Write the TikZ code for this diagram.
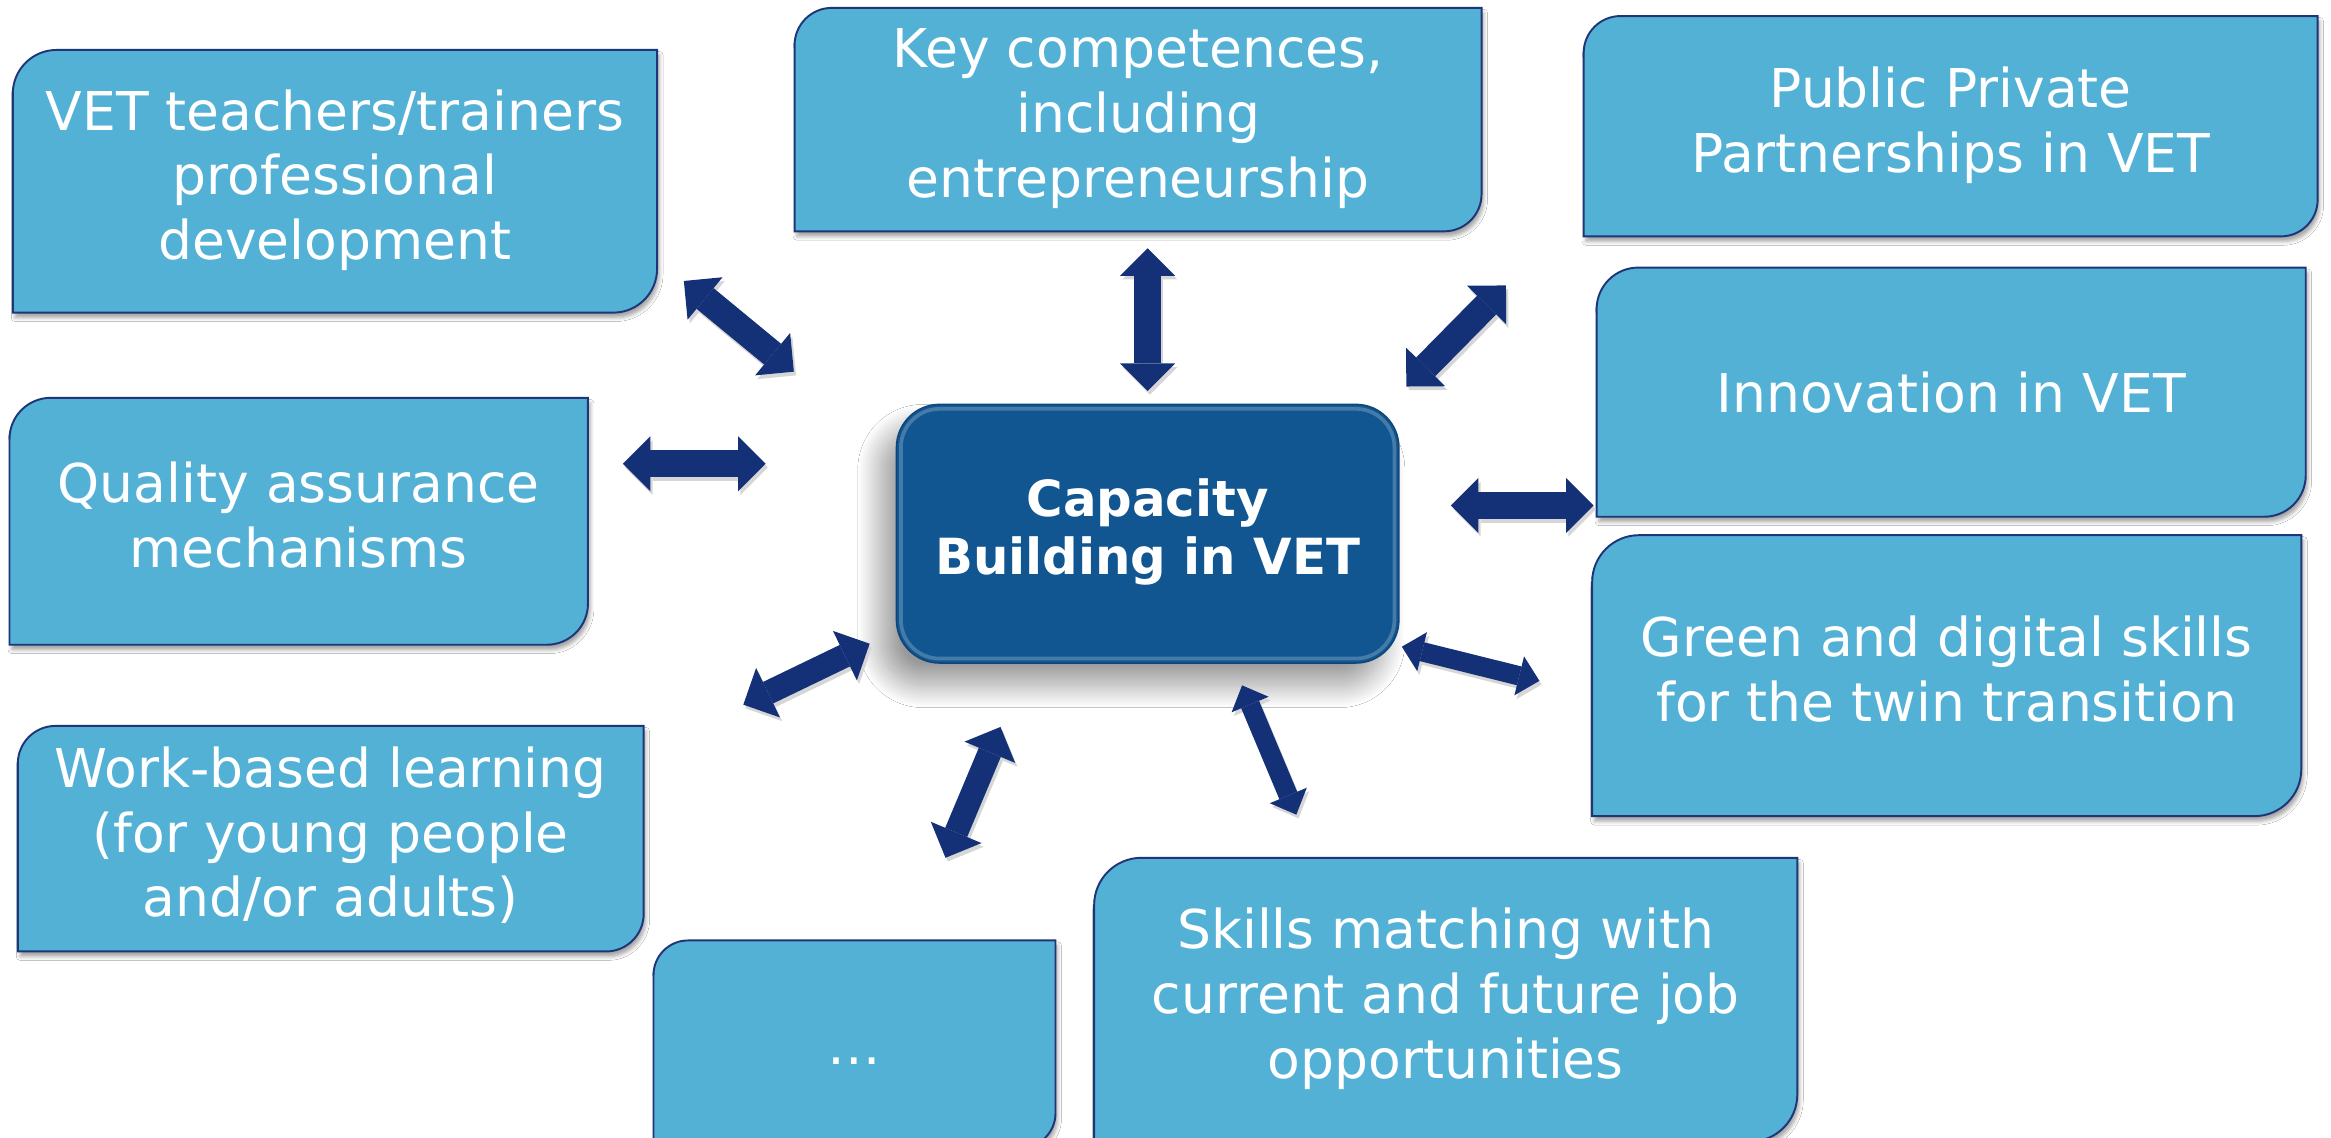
\documentclass[tikz,border=0pt]{standalone}
\usepackage{fontspec}
\setmainfont{DejaVu Sans}
\usetikzlibrary{arrows.meta,shadows.blur}
\definecolor{lbfill}{RGB}{84,177,214}
\definecolor{lbline}{RGB}{30,54,120}
\definecolor{cbfill}{RGB}{17,86,145}
\definecolor{cbedge}{RGB}{14,70,122}
\definecolor{arrcol}{RGB}{20,49,119}
\newcommand\pstrut{\lineskiplimit=-100pt\relax\rule[-9pt]{0pt}{46pt}}
\newcommand\cstrut{\lineskiplimit=-100pt\relax\rule[-9pt]{0pt}{45pt}}
\newcommand\rdbox[6]{%
  \pgfmathsetmacro\rdr{0.1667*min(#4-#2,#5-#3)}%
  \pgfmathsetmacro\rdc{0.4477*\rdr}%
  \path[lbox] (#2,#5) -- (#2,#3+\rdr) .. controls (#2,#3+\rdc) and (#2+\rdc,#3) .. (#2+\rdr,#3)
     -- (#4,#3) -- (#4,#5-\rdr) .. controls (#4,#5-\rdc) and (#4-\rdc,#5) .. (#4-\rdr,#5) -- cycle;
  \node[ltext] (#1) at ({(#2+#4)/2},{(#3+#5)/2}) {#6};
}
\lineskiplimit=-100pt
\begin{document}
\begin{tikzpicture}[x=1pt,y=-1pt,
  lbox/.style={fill=lbfill, draw=lbline, line width=1.3pt,
    blur shadow={shadow xshift=1.5pt, shadow yshift=-3.5pt, shadow blur radius=2.5pt, shadow opacity=35}},
  ltext/.style={text=white, align=center, inner sep=0pt,
    font=\fontsize{36}{43.5}\selectfont,
    execute at begin node=\pstrut, execute at end node=\pstrut},
  cbox/.style={fill=cbfill, draw=cbedge, line width=1pt, rounded corners=29pt,
    minimum width=338pt, minimum height=174pt, inner sep=0pt, text=white, align=center,
    font=\bfseries\fontsize{33.5}{39}\selectfont,
    execute at begin node=\cstrut, execute at end node=\cstrut,
    blur shadow={shadow xshift=-11pt, shadow yshift=-15pt, shadow blur radius=15pt,
      shadow opacity=40, shadow blur steps=30}},
  arrbig/.style={draw=arrcol, line width=18pt,
    >={Triangle[length=18.5pt 0 0, width=37pt 0 0, line width=0pt 0 0]}, <->},
  arrmid/.style={draw=arrcol, line width=16pt,
    >={Triangle[length=18.5pt 0 0, width=37pt 0 0, line width=0pt 0 0]}, <->},
  arrsml/.style={draw=arrcol, line width=13pt,
    >={Triangle[length=14pt 0 0, width=27pt 0 0, line width=0pt 0 0]}, <->}
]
\lineskiplimit=-100pt
\useasboundingbox (0,0) rectangle (1568,765.5);
\fill[white] (0,0) rectangle (1568,765.5);
\clip (0,0) rectangle (1568,765.5);

% outer boxes
\rdbox{vet}{8.6}{33.6}{442}{210.3}{VET teachers/trainers\\professional\\development}
\rdbox{key}{534.5}{5.3}{996.6}{155.6}{Key competences,\\including\\entrepreneurship}
\rdbox{ppp}{1065.3}{10.8}{1559}{159}{Public Private\\Partnerships in VET}
\rdbox{inn}{1074}{180}{1551}{347.6}{Innovation in VET}
\rdbox{grn}{1071}{360}{1548}{549}{Green and digital skills\\for the twin transition}
\rdbox{qua}{6.4}{267.6}{395.5}{433.7}{Quality assurance\\mechanisms}
\rdbox{wbl}{12}{488.3}{433}{640}{Work-based learning\\(for young people\\and/or adults)}
\rdbox{etc}{439.6}{632.6}{710}{772}{…}
\rdbox{skm}{736}{577}{1209}{768}{Skills matching with\\current and future job\\opportunities}

% central box
\node[cbox] (cap) at (772,359) {Capacity\\Building in VET};
\draw[white, opacity=0.22, line width=2.5pt, rounded corners=26pt]
  ([shift={(3.5,3.5)}]cap.north west) rectangle ([shift={(-3.5,-3.5)}]cap.south east);

% arrow end points
\coordinate (vt1) at (460,189);   \coordinate (vt2) at (534,250);
\coordinate (ky1) at (772,167);   \coordinate (ky2) at (772,263);
\coordinate (pp1) at (1013,192);  \coordinate (pp2) at (946,260);
\coordinate (qa1) at (419,312);   \coordinate (qa2) at (515,312);
\coordinate (in1) at (976,340);   \coordinate (in2) at (1072,340);
\coordinate (wb1) at (585,433);   \coordinate (wb2) at (500,474);
\coordinate (dt1) at (673,489);   \coordinate (dt2) at (636,577);
\coordinate (sk1) at (835.5,461); \coordinate (sk2) at (872,548);
\coordinate (gr1) at (943,435);   \coordinate (gr2) at (1035.5,458);

\foreach \n/\s in {vt/arrbig,ky/arrbig,pp/arrbig,qa/arrbig,in/arrbig,wb/arrmid,dt/arrmid,sk/arrsml,gr/arrsml}{
  \draw[\s, draw=black!16] ([shift={(1.5,2.5)}]\n1) -- ([shift={(1.5,2.5)}]\n2);
  \draw[\s] (\n1) -- (\n2);
}
\end{tikzpicture}
\end{document}
